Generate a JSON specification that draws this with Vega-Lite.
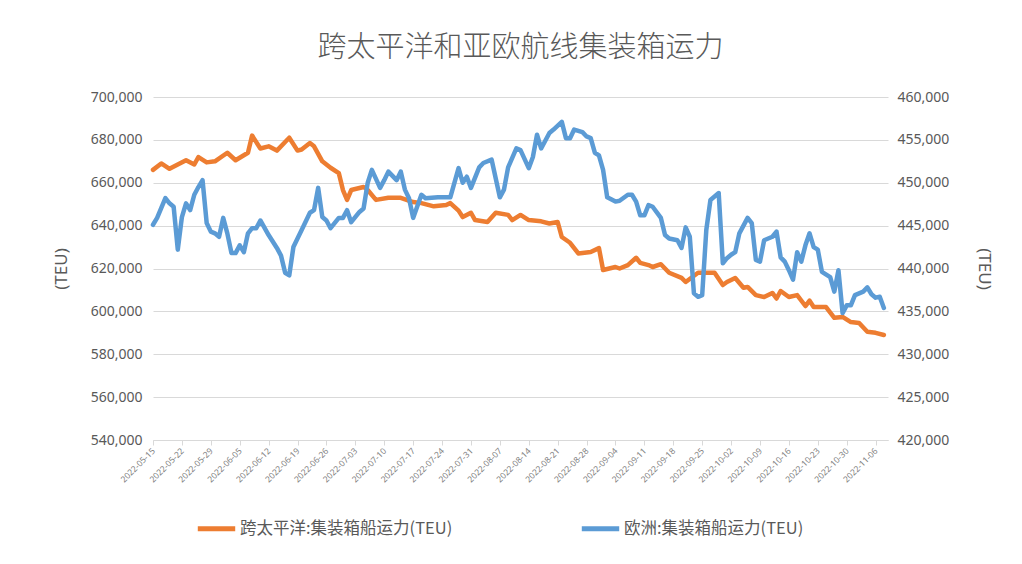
{
  "$schema": "https://vega.github.io/schema/vega-lite/v6.json",
  "width": 735,
  "height": 343,
  "autosize": {"type": "none"},
  "padding": {"left": 153, "top": 97, "right": 134, "bottom": 124},
  "background": "white",
  "config": {"view": {"stroke": null}},
  "title": {"text": "跨太平洋和亚欧航线集装箱运力", "font": "Noto Sans CJK SC", "fontSize": 29, "fontWeight": 300, "color": "#595959", "anchor": "middle", "offset": 27},
  "datasets": {
    "tp": [
      {"date": "2022-05-15", "teu": 666000}, {"date": "2022-05-17", "teu": 669000}, {"date": "2022-05-19", "teu": 666500}, {"date": "2022-05-21", "teu": 668500},
      {"date": "2022-05-23", "teu": 670500}, {"date": "2022-05-25", "teu": 668500}, {"date": "2022-05-26", "teu": 672000}, {"date": "2022-05-28", "teu": 669500},
      {"date": "2022-05-30", "teu": 670000}, {"date": "2022-06-02", "teu": 674000}, {"date": "2022-06-04", "teu": 670500}, {"date": "2022-06-07", "teu": 674000},
      {"date": "2022-06-08", "teu": 682000}, {"date": "2022-06-10", "teu": 676000}, {"date": "2022-06-12", "teu": 677000}, {"date": "2022-06-14", "teu": 675000},
      {"date": "2022-06-16", "teu": 679000}, {"date": "2022-06-17", "teu": 681000}, {"date": "2022-06-19", "teu": 675000}, {"date": "2022-06-20", "teu": 675500},
      {"date": "2022-06-22", "teu": 678500}, {"date": "2022-06-23", "teu": 677000}, {"date": "2022-06-25", "teu": 670000}, {"date": "2022-06-27", "teu": 667000},
      {"date": "2022-06-29", "teu": 664500}, {"date": "2022-06-30", "teu": 656600}, {"date": "2022-07-01", "teu": 652000}, {"date": "2022-07-02", "teu": 656600},
      {"date": "2022-07-05", "teu": 658000}, {"date": "2022-07-06", "teu": 656600}, {"date": "2022-07-08", "teu": 652000}, {"date": "2022-07-11", "teu": 653000},
      {"date": "2022-07-14", "teu": 653000}, {"date": "2022-07-17", "teu": 651000}, {"date": "2022-07-19", "teu": 650500}, {"date": "2022-07-22", "teu": 649000},
      {"date": "2022-07-25", "teu": 649600}, {"date": "2022-07-26", "teu": 650500}, {"date": "2022-07-28", "teu": 647000}, {"date": "2022-07-29", "teu": 644000},
      {"date": "2022-07-31", "teu": 646000}, {"date": "2022-08-01", "teu": 642600}, {"date": "2022-08-04", "teu": 641700}, {"date": "2022-08-06", "teu": 646000},
      {"date": "2022-08-09", "teu": 645000}, {"date": "2022-08-10", "teu": 642600}, {"date": "2022-08-12", "teu": 645000}, {"date": "2022-08-14", "teu": 642600},
      {"date": "2022-08-17", "teu": 642000}, {"date": "2022-08-19", "teu": 641000}, {"date": "2022-08-21", "teu": 641700}, {"date": "2022-08-22", "teu": 634700},
      {"date": "2022-08-24", "teu": 632000}, {"date": "2022-08-26", "teu": 627000}, {"date": "2022-08-29", "teu": 627700}, {"date": "2022-08-31", "teu": 629500},
      {"date": "2022-09-01", "teu": 619300}, {"date": "2022-09-04", "teu": 620700}, {"date": "2022-09-05", "teu": 620000}, {"date": "2022-09-07", "teu": 621600},
      {"date": "2022-09-09", "teu": 625000}, {"date": "2022-09-10", "teu": 622600}, {"date": "2022-09-12", "teu": 621600}, {"date": "2022-09-13", "teu": 620700},
      {"date": "2022-09-15", "teu": 622000}, {"date": "2022-09-17", "teu": 618000}, {"date": "2022-09-20", "teu": 615600}, {"date": "2022-09-21", "teu": 613700},
      {"date": "2022-09-24", "teu": 618000}, {"date": "2022-09-26", "teu": 618000}, {"date": "2022-09-28", "teu": 618000}, {"date": "2022-09-30", "teu": 612300},
      {"date": "2022-10-01", "teu": 613700}, {"date": "2022-10-03", "teu": 615600}, {"date": "2022-10-05", "teu": 611000}, {"date": "2022-10-06", "teu": 611400},
      {"date": "2022-10-08", "teu": 607600}, {"date": "2022-10-10", "teu": 606700}, {"date": "2022-10-12", "teu": 608600}, {"date": "2022-10-13", "teu": 606000},
      {"date": "2022-10-14", "teu": 609500}, {"date": "2022-10-16", "teu": 606700}, {"date": "2022-10-18", "teu": 607600}, {"date": "2022-10-20", "teu": 602500},
      {"date": "2022-10-21", "teu": 605000}, {"date": "2022-10-22", "teu": 602000}, {"date": "2022-10-25", "teu": 602000}, {"date": "2022-10-27", "teu": 597000},
      {"date": "2022-10-29", "teu": 597400}, {"date": "2022-10-31", "teu": 595000}, {"date": "2022-11-02", "teu": 594600}, {"date": "2022-11-04", "teu": 590500},
      {"date": "2022-11-06", "teu": 590000}, {"date": "2022-11-08", "teu": 589000}
    ],
    "eu": [
      {"date": "2022-05-15", "teu": 445100}, {"date": "2022-05-16", "teu": 445900}, {"date": "2022-05-18", "teu": 448200}, {"date": "2022-05-19", "teu": 447600},
      {"date": "2022-05-20", "teu": 447200}, {"date": "2022-05-21", "teu": 442200}, {"date": "2022-05-22", "teu": 446000}, {"date": "2022-05-23", "teu": 447600},
      {"date": "2022-05-24", "teu": 446800}, {"date": "2022-05-25", "teu": 448600}, {"date": "2022-05-26", "teu": 449500}, {"date": "2022-05-27", "teu": 450300},
      {"date": "2022-05-28", "teu": 445300}, {"date": "2022-05-29", "teu": 444300}, {"date": "2022-05-30", "teu": 444100}, {"date": "2022-05-31", "teu": 443700},
      {"date": "2022-06-01", "teu": 445900}, {"date": "2022-06-02", "teu": 444100}, {"date": "2022-06-03", "teu": 441800}, {"date": "2022-06-04", "teu": 441800},
      {"date": "2022-06-05", "teu": 442700}, {"date": "2022-06-06", "teu": 441900}, {"date": "2022-06-07", "teu": 444100}, {"date": "2022-06-08", "teu": 444700},
      {"date": "2022-06-09", "teu": 444700}, {"date": "2022-06-10", "teu": 445600}, {"date": "2022-06-12", "teu": 443900}, {"date": "2022-06-14", "teu": 442400},
      {"date": "2022-06-15", "teu": 441500}, {"date": "2022-06-16", "teu": 439500}, {"date": "2022-06-17", "teu": 439200}, {"date": "2022-06-18", "teu": 442500},
      {"date": "2022-06-19", "teu": 443500}, {"date": "2022-06-20", "teu": 444500}, {"date": "2022-06-22", "teu": 446500}, {"date": "2022-06-23", "teu": 446800},
      {"date": "2022-06-24", "teu": 449400}, {"date": "2022-06-25", "teu": 446000}, {"date": "2022-06-26", "teu": 445600}, {"date": "2022-06-27", "teu": 444700},
      {"date": "2022-06-29", "teu": 445900}, {"date": "2022-06-30", "teu": 445900}, {"date": "2022-07-01", "teu": 446800}, {"date": "2022-07-02", "teu": 445400},
      {"date": "2022-07-04", "teu": 446600}, {"date": "2022-07-05", "teu": 447000}, {"date": "2022-07-06", "teu": 450000}, {"date": "2022-07-07", "teu": 451500},
      {"date": "2022-07-09", "teu": 449400}, {"date": "2022-07-10", "teu": 450300}, {"date": "2022-07-11", "teu": 451300}, {"date": "2022-07-13", "teu": 450300},
      {"date": "2022-07-14", "teu": 451300}, {"date": "2022-07-15", "teu": 449200}, {"date": "2022-07-16", "teu": 448200}, {"date": "2022-07-17", "teu": 445900},
      {"date": "2022-07-19", "teu": 448600}, {"date": "2022-07-20", "teu": 448200}, {"date": "2022-07-23", "teu": 448300}, {"date": "2022-07-25", "teu": 448300},
      {"date": "2022-07-26", "teu": 448300}, {"date": "2022-07-28", "teu": 451700}, {"date": "2022-07-29", "teu": 450000}, {"date": "2022-07-30", "teu": 450700},
      {"date": "2022-07-31", "teu": 449400}, {"date": "2022-08-02", "teu": 451800}, {"date": "2022-08-03", "teu": 452300}, {"date": "2022-08-05", "teu": 452700},
      {"date": "2022-08-07", "teu": 448300}, {"date": "2022-08-08", "teu": 449200}, {"date": "2022-08-09", "teu": 451800}, {"date": "2022-08-11", "teu": 454000},
      {"date": "2022-08-12", "teu": 453800}, {"date": "2022-08-14", "teu": 451700}, {"date": "2022-08-15", "teu": 453000}, {"date": "2022-08-16", "teu": 455600},
      {"date": "2022-08-17", "teu": 454000}, {"date": "2022-08-19", "teu": 455800}, {"date": "2022-08-20", "teu": 456200}, {"date": "2022-08-22", "teu": 457100},
      {"date": "2022-08-23", "teu": 455200}, {"date": "2022-08-24", "teu": 455200}, {"date": "2022-08-25", "teu": 456200}, {"date": "2022-08-27", "teu": 455900},
      {"date": "2022-08-28", "teu": 455400}, {"date": "2022-08-29", "teu": 455200}, {"date": "2022-08-30", "teu": 453500}, {"date": "2022-08-31", "teu": 453200},
      {"date": "2022-09-01", "teu": 451500}, {"date": "2022-09-02", "teu": 448300}, {"date": "2022-09-04", "teu": 447800}, {"date": "2022-09-05", "teu": 447900},
      {"date": "2022-09-07", "teu": 448600}, {"date": "2022-09-08", "teu": 448600}, {"date": "2022-09-09", "teu": 447800}, {"date": "2022-09-10", "teu": 446200},
      {"date": "2022-09-11", "teu": 446200}, {"date": "2022-09-12", "teu": 447400}, {"date": "2022-09-13", "teu": 447200}, {"date": "2022-09-15", "teu": 445900},
      {"date": "2022-09-16", "teu": 443900}, {"date": "2022-09-17", "teu": 443500}, {"date": "2022-09-19", "teu": 443300}, {"date": "2022-09-20", "teu": 442400},
      {"date": "2022-09-21", "teu": 444800}, {"date": "2022-09-22", "teu": 443700}, {"date": "2022-09-23", "teu": 437100}, {"date": "2022-09-24", "teu": 436700},
      {"date": "2022-09-25", "teu": 436900}, {"date": "2022-09-26", "teu": 444500}, {"date": "2022-09-27", "teu": 448000}, {"date": "2022-09-29", "teu": 448800},
      {"date": "2022-09-30", "teu": 440600}, {"date": "2022-10-01", "teu": 441200}, {"date": "2022-10-02", "teu": 441600}, {"date": "2022-10-03", "teu": 441900},
      {"date": "2022-10-04", "teu": 444100}, {"date": "2022-10-06", "teu": 445900}, {"date": "2022-10-07", "teu": 445300}, {"date": "2022-10-08", "teu": 441000},
      {"date": "2022-10-09", "teu": 440800}, {"date": "2022-10-10", "teu": 443300}, {"date": "2022-10-12", "teu": 443700}, {"date": "2022-10-13", "teu": 444300},
      {"date": "2022-10-14", "teu": 441300}, {"date": "2022-10-15", "teu": 440800}, {"date": "2022-10-16", "teu": 439800}, {"date": "2022-10-17", "teu": 438700},
      {"date": "2022-10-18", "teu": 441900}, {"date": "2022-10-19", "teu": 440800}, {"date": "2022-10-20", "teu": 442700}, {"date": "2022-10-21", "teu": 444100},
      {"date": "2022-10-22", "teu": 442500}, {"date": "2022-10-23", "teu": 442200}, {"date": "2022-10-24", "teu": 439600}, {"date": "2022-10-26", "teu": 439000},
      {"date": "2022-10-27", "teu": 437300}, {"date": "2022-10-28", "teu": 439800}, {"date": "2022-10-29", "teu": 434800}, {"date": "2022-10-30", "teu": 435700},
      {"date": "2022-10-31", "teu": 435700}, {"date": "2022-11-01", "teu": 436900}, {"date": "2022-11-03", "teu": 437300}, {"date": "2022-11-04", "teu": 437800},
      {"date": "2022-11-05", "teu": 437000}, {"date": "2022-11-06", "teu": 436600}, {"date": "2022-11-07", "teu": 436700}, {"date": "2022-11-08", "teu": 435400}
    ]
  },
  "encoding": {
    "x": {
      "field": "date", "type": "temporal",
      "scale": {"type": "utc", "domain": [{"year": 2022, "month": 5, "date": 15, "utc": true}, {"year": 2022, "month": 11, "date": 9, "utc": true}]},
      "axis": {
        "title": null, "format": "%Y-%m-%d", "labelAngle": -45, "labelAlign": "right", "labelBaseline": "middle",
        "labelFontSize": 8.5, "labelFont": "Noto Sans", "labelColor": "#7f7f7f", "labelPadding": 4, "labelOverlap": false,
        "domainColor": "#d9d9d9", "domainWidth": 1, "tickColor": "#d9d9d9", "tickSize": 5, "grid": false,
        "values": [
          {"year": 2022, "month": 5, "date": 15, "utc": true}, {"year": 2022, "month": 5, "date": 22, "utc": true}, {"year": 2022, "month": 5, "date": 29, "utc": true},
          {"year": 2022, "month": 6, "date": 5, "utc": true}, {"year": 2022, "month": 6, "date": 12, "utc": true}, {"year": 2022, "month": 6, "date": 19, "utc": true},
          {"year": 2022, "month": 6, "date": 26, "utc": true}, {"year": 2022, "month": 7, "date": 3, "utc": true}, {"year": 2022, "month": 7, "date": 10, "utc": true},
          {"year": 2022, "month": 7, "date": 17, "utc": true}, {"year": 2022, "month": 7, "date": 24, "utc": true}, {"year": 2022, "month": 7, "date": 31, "utc": true},
          {"year": 2022, "month": 8, "date": 7, "utc": true}, {"year": 2022, "month": 8, "date": 14, "utc": true}, {"year": 2022, "month": 8, "date": 21, "utc": true},
          {"year": 2022, "month": 8, "date": 28, "utc": true}, {"year": 2022, "month": 9, "date": 4, "utc": true}, {"year": 2022, "month": 9, "date": 11, "utc": true},
          {"year": 2022, "month": 9, "date": 18, "utc": true}, {"year": 2022, "month": 9, "date": 25, "utc": true}, {"year": 2022, "month": 10, "date": 2, "utc": true},
          {"year": 2022, "month": 10, "date": 9, "utc": true}, {"year": 2022, "month": 10, "date": 16, "utc": true}, {"year": 2022, "month": 10, "date": 23, "utc": true},
          {"year": 2022, "month": 10, "date": 30, "utc": true}, {"year": 2022, "month": 11, "date": 6, "utc": true}
        ]
      }
    }
  },
  "layer": [
    {
      "data": {"name": "tp"},
      "mark": {"type": "line", "strokeWidth": 4.5, "strokeCap": "round", "strokeJoin": "round"},
      "encoding": {
        "y": {
          "field": "teu", "type": "quantitative",
          "scale": {"domain": [540000, 700000], "nice": false, "zero": false},
          "axis": {
            "orient": "left", "title": "(TEU)", "format": ",.0f",
            "values": [540000, 560000, 580000, 600000, 620000, 640000, 660000, 680000, 700000],
            "grid": true, "gridColor": "#d9d9d9", "gridWidth": 1, "domain": false, "ticks": false,
            "labelFont": "Noto Sans", "labelFontSize": 14, "labelColor": "#595959", "labelPadding": 11,
            "titleFont": "Noto Sans", "titleFontSize": 17, "titleFontWeight": "normal", "titleColor": "#595959", "titlePadding": 20
          }
        },
        "color": {
          "datum": "跨太平洋:集装箱船运力(TEU)",
          "scale": {"domain": ["跨太平洋:集装箱船运力(TEU)", "欧洲:集装箱船运力(TEU)"], "range": ["#ED7D31", "#5B9BD5"]},
          "legend": {
            "title": null, "orient": "none", "legendX": 42, "legendY": 410, "direction": "horizontal",
            "symbolType": "stroke", "symbolStrokeWidth": 5, "symbolSize": 1400,
            "labelFont": "Noto Sans CJK SC", "labelFontSize": 16.5, "labelColor": "#595959", "labelOffset": 2, "labelLimit": 0,
            "columnPadding": 118
          }
        }
      }
    },
    {
      "data": {"name": "eu"},
      "mark": {"type": "line", "strokeWidth": 4.5, "strokeCap": "round", "strokeJoin": "round"},
      "encoding": {
        "y": {
          "field": "teu", "type": "quantitative",
          "scale": {"domain": [420000, 460000], "nice": false, "zero": false},
          "axis": {
            "orient": "right", "title": "(TEU)", "format": ",.0f",
            "values": [420000, 425000, 430000, 435000, 440000, 445000, 450000, 455000, 460000],
            "grid": false, "domain": false, "ticks": false,
            "labelFont": "Noto Sans", "labelFontSize": 14, "labelColor": "#595959", "labelPadding": 9,
            "titleFont": "Noto Sans", "titleFontSize": 17, "titleFontWeight": "normal", "titleColor": "#595959", "titlePadding": 26
          }
        },
        "color": {"datum": "欧洲:集装箱船运力(TEU)"}
      }
    }
  ],
  "resolve": {"scale": {"y": "independent"}}
}
